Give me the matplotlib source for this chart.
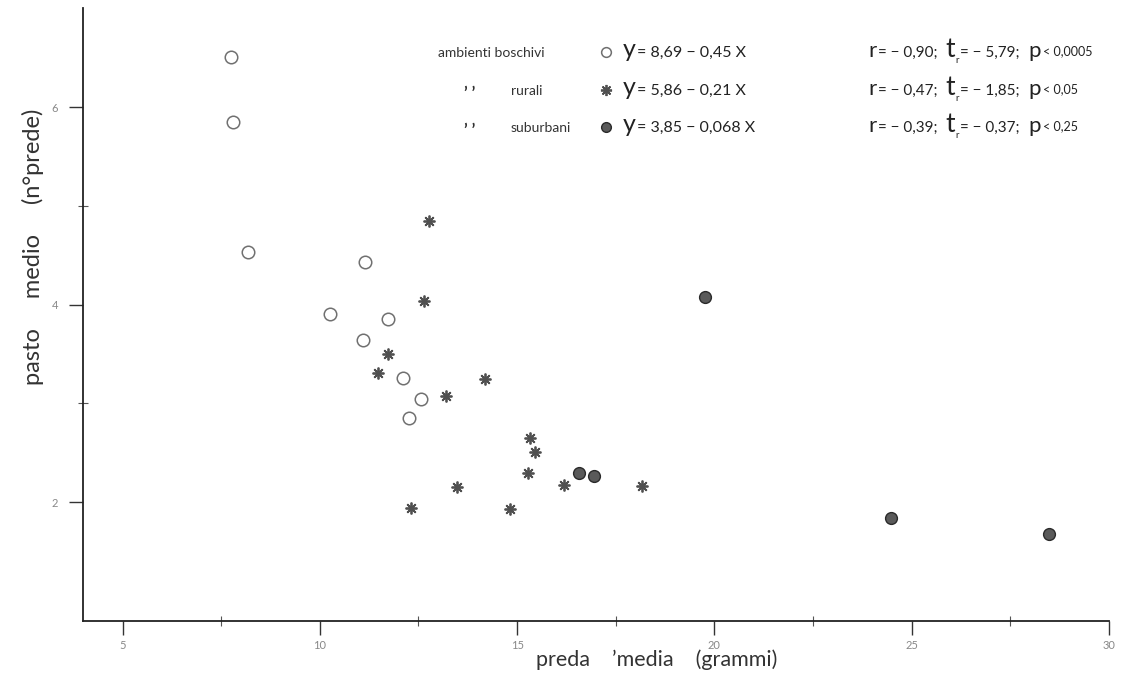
import matplotlib
matplotlib.use('Agg')
import matplotlib.pyplot as plt

plt.rcParams['font.family'] = ['Lato', 'DejaVu Sans']

# ambienti boschivi (open circles)
bosco_x = [7.76, 7.81, 8.17, 10.25, 11.14, 11.09, 11.72, 12.12, 12.56, 12.25]
bosco_y = [6.51, 5.85, 4.53, 3.91, 4.43, 3.64, 3.85, 3.26, 3.05, 2.85]

# ambienti rurali (asterisks)
rurali_x = [12.76, 12.63, 11.72, 11.47, 13.19, 14.18, 15.32, 15.45, 15.27, 16.18, 18.16, 13.47, 12.30, 14.81]
rurali_y = [4.85, 4.04, 3.50, 3.31, 3.08, 3.25, 2.65, 2.51, 2.30, 2.17, 2.16, 2.15, 1.94, 1.93]

# ambienti suburbani (filled circles)
suburb_x = [19.76, 16.56, 16.94, 24.47, 28.48]
suburb_y = [4.08, 2.30, 2.27, 1.84, 1.68]

x_ticks = [5, 10, 15, 20, 25, 30]
y_ticks = [2, 4, 6]

legend_rows = [
    ('ambienti boschivi', '8,69 − 0,45 X', '0,90', '5,79', '0,0005'),
    ('rurali', '5,86 − 0,21 X', '0,47', '1,85', '0,05'),
    ('suburbani', '3,85 − 0,068 X', '0,39', '0,37', '0,25'),
]

fig = plt.figure(figsize=(11.23, 6.86), dpi=100)
ax = fig.add_axes([0.074, 0.095, 0.9135, 0.893])

circle_style = dict(marker='o', ms=9, mfc='white', mec='#707070', mew=1.1, ls='none')
star_style = dict(marker=(8, 2, 0), ms=8.5, mec='#505050', mew=1.3, ls='none')
dot_style = dict(marker='o', ms=8.5, mfc='#5a5a5a', mec='#2a2a2a', mew=1.0, ls='none')

ax.plot(bosco_x, bosco_y, **circle_style)
ax.plot(rurali_x, rurali_y, **star_style)
ax.plot(suburb_x, suburb_y, **dot_style)

ax.set_xlim(4, 30)
ax.set_ylim(0.8, 7)
ax.spines['top'].set_visible(False)
ax.spines['right'].set_visible(False)
for s in ['left', 'bottom']:
    ax.spines[s].set_linewidth(1.3)
    ax.spines[s].set_color('#222222')

ax.set_xticks(x_ticks)
ax.set_xticks([7.5, 12.5, 17.5, 22.5, 27.5], minor=True)
ax.set_yticks(y_ticks)
ax.set_yticks([3, 5], minor=True)
ax.tick_params(which='major', direction='out', length=10, width=1, color='#333333',
               labelsize=8, labelcolor='#888888')
ax.tick_params(axis='y', which='major', pad=8)
ax.tick_params(which='minor', direction='inout', length=7, width=0.8, color='#555555')

fig.text(0.029, 0.64, 'pasto     medio     (n°prede)', rotation=90, ha='center', va='center',
         fontsize=17, color='#333333')
fig.text(0.585, 0.038, 'preda    ’media    (grammi)', ha='center', va='center',
         fontsize=15.5, color='#333333')


def chain(x0, y0, pieces):
    t = fig.text(x0, y0, pieces[0][0], fontsize=pieces[0][1], va='baseline', color='#222222')
    for s, sz, dx, dy in pieces[1:]:
        t = ax.annotate(s, xy=(1, y0), xycoords=(t, 'figure fraction'), xytext=(dx, dy),
                        textcoords='offset points', fontsize=sz, va='baseline', color='#222222')
    return t


W, H = 1123.0, 686.0
row_y = [57, 95, 132]
markers = [circle_style, star_style, dot_style]
msizes = [7, 8, 7]
for i, (name, eq, r, tr, p) in enumerate(legend_rows):
    yb = 1 - row_y[i] / H
    if i == 0:
        fig.text(438 / W, yb, name, fontsize=10, va='baseline', color='#333333')
    else:
        fig.text(464 / W, yb - 0.006, '’ ’', fontsize=12, va='baseline', color='#333333',
                 fontweight='bold')
        fig.text(511 / W, yb, name, fontsize=10, va='baseline', color='#333333')
    st = dict(markers[i])
    st['ms'] = msizes[i]
    ax.plot([606 / W], [1 - (row_y[i] - 5) / H], transform=fig.transFigure, clip_on=False, **st)
    chain(623 / W, yb, [('y', 18), ('= ' + eq, 11.5, 1, 0)])
    chain(868 / W, yb, [('r', 16), ('= − ' + r + ';', 11, 1, 0), ('t', 19, 6, 0),
                        ('r', 7, 0, -4), ('= − ' + tr + ';', 11, 1, 0), ('p', 16, 6, 0),
                        ('< ' + p, 9, 2, 1)])

fig.savefig('out.png', dpi=100)
